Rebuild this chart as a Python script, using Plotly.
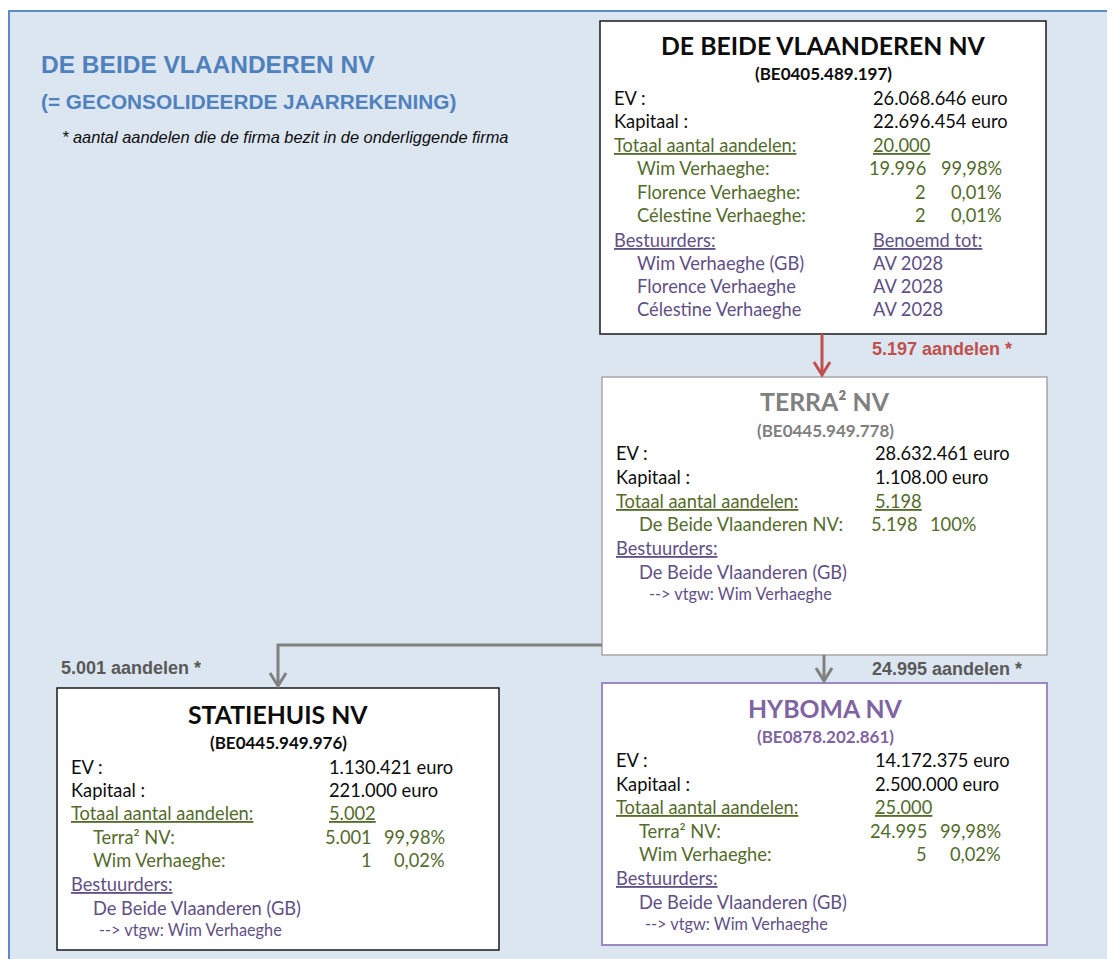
import plotly.graph_objects as go

# ---------------- DATA ----------------
page_title = "DE BEIDE VLAANDEREN NV"
page_subtitle = "(= GECONSOLIDEERDE JAARREKENING)"
page_note = "* aantal aandelen die de firma bezit in de onderliggende firma"

company_names = ["DE BEIDE VLAANDEREN NV", "TERRA² NV", "STATIEHUIS NV", "HYBOMA NV"]
company_numbers = ["(BE0405.489.197)", "(BE0445.949.778)", "(BE0445.949.976)", "(BE0878.202.861)"]
eigen_vermogen = ["26.068.646 euro", "28.632.461 euro", "1.130.421 euro", "14.172.375 euro"]
kapitaal = ["22.696.454 euro", "1.108.00 euro", "221.000 euro", "2.500.000 euro"]
totaal_aandelen = ["20.000", "5.198", "5.002", "25.000"]
aandeelhouders = [
    ["Wim Verhaeghe:", "Florence Verhaeghe:", "Célestine Verhaeghe:"],
    ["De Beide Vlaanderen NV:"],
    ["Terra² NV:", "Wim Verhaeghe:"],
    ["Terra² NV:", "Wim Verhaeghe:"],
]
aandelen = [["19.996", "2", "2"], ["5.198"], ["5.001", "1"], ["24.995", "5"]]
percentages = [["99,98%", "0,01%", "0,01%"], ["100%"], ["99,98%", "0,02%"], ["99,98%", "0,02%"]]
bestuurders = [
    ["Wim Verhaeghe (GB)", "Florence Verhaeghe", "Célestine Verhaeghe"],
    ["De Beide Vlaanderen (GB)"],
    ["De Beide Vlaanderen (GB)"],
    ["De Beide Vlaanderen (GB)"],
]
benoemd_tot = [["AV 2028", "AV 2028", "AV 2028"], [], [], []]
vertegenwoordigers = [None, "--> vtgw: Wim Verhaeghe", "--> vtgw: Wim Verhaeghe", "--> vtgw: Wim Verhaeghe"]
link_labels = ["5.197 aandelen *", "5.001 aandelen *", "24.995 aandelen *"]

# ---------------- STYLE / LAYOUT ----------------
W, H = 1115, 959
OFF = 8  # page body margin: axis units == page pixels
BODY = "Lato"
ARIAL = "Liberation Sans"
BLACK = "#0d0d0d"
GREEN = "#546b2c"
PURPLE = "#5f5085"
BLUE = "#4f81bd"
RED = "#c0504d"
FS = 18.3

boxes = [
    dict(rect=(600, 21, 1046, 334), tcol=BLACK, bcol="#1a1a1a", bw=1.5, cx=823, ty=45, vy=73,
         rows=[98, 121, 145, 168, 192, 215, 240, 263, 286, 309],
         lx=613, ix=636, vx=872, cr=927, pr=1003, vtx=None),
    dict(rect=(602, 377, 1047, 655), tcol="#808080", bcol="#a6a6a6", bw=1.5, cx=825, ty=401, vy=430,
         rows=[453, 477, 501, 524, 548, 572, 593],
         lx=615, ix=638, vx=874, cr=919, pr=977, vtx=648),
    dict(rect=(57, 688, 499, 950), tcol=BLACK, bcol="#1a1a1a", bw=1.5, cx=278, ty=714, vy=742,
         rows=[767, 790, 813, 837, 860, 884, 908, 929],
         lx=70, ix=92, vx=328, cr=373, pr=446, vtx=98),
    dict(rect=(602, 683, 1047, 945), tcol="#8064a2", bcol="#9d88c4", bw=2, cx=825, ty=708, vy=736,
         rows=[760, 784, 807, 831, 854, 878, 902, 923],
         lx=615, ix=638, vx=874, cr=928, pr=1002, vtx=644),
]

fig = go.Figure()
shapes = []
ann = []


def text(x, y, s, color, size=FS, family=BODY, anchor="left"):
    ann.append(dict(x=x, y=y, xref="x", yref="y", text=s, showarrow=False,
                    xanchor=anchor, yanchor="middle", borderpad=0,
                    font=dict(family=family, size=size, color=color)))


# background panel
shapes.append(dict(type="rect", x0=9, y0=11, x1=W + 40, y1=H + 40, xref="x", yref="y",
                   fillcolor="#dce6f1", line=dict(color="#5b8cc9", width=2), layer="below"))

# page heading
text(40, 64, f"<b>{page_title}</b>", BLUE, 24.5, ARIAL)
text(40, 101, f"<b>{page_subtitle}</b>", BLUE, 20.8, ARIAL)
text(61, 137, f"<i>{page_note}</i>", BLACK, 16.4, ARIAL)

for i, b in enumerate(boxes):
    x0, y0, x1, y1 = b["rect"]
    shapes.append(dict(type="rect", x0=x0, y0=y0, x1=x1, y1=y1, xref="x", yref="y",
                       fillcolor="white", line=dict(color=b["bcol"], width=b["bw"])))
    text(b["cx"], b["ty"], f"<b>{company_names[i]}</b>", b["tcol"], 24.8, BODY, "center")
    text(b["cx"], b["vy"], f"<b>{company_numbers[i]}</b>", b["tcol"], 17, BODY, "center")
    r = iter(b["rows"])
    y = next(r)
    text(b["lx"], y, "EV :", BLACK)
    text(b["vx"], y, eigen_vermogen[i], BLACK)
    y = next(r)
    text(b["lx"], y, "Kapitaal :", BLACK)
    text(b["vx"], y, kapitaal[i], BLACK)
    y = next(r)
    text(b["lx"], y, "<u>Totaal aantal aandelen:</u>", GREEN)
    text(b["vx"], y, f"<u>{totaal_aandelen[i]}</u>", GREEN)
    for name, n, p in zip(aandeelhouders[i], aandelen[i], percentages[i]):
        y = next(r)
        text(b["ix"], y, name, GREEN)
        text(b["cr"], y, n, GREEN, anchor="right")
        text(b["pr"], y, p, GREEN, anchor="right")
    y = next(r)
    text(b["lx"], y, "<u>Bestuurders:</u>", PURPLE)
    if benoemd_tot[i]:
        text(b["vx"], y, "<u>Benoemd tot:</u>", PURPLE)
    for j, name in enumerate(bestuurders[i]):
        y = next(r)
        text(b["ix"], y, name, PURPLE)
        if benoemd_tot[i]:
            text(b["vx"], y, benoemd_tot[i][j], PURPLE)
    if vertegenwoordigers[i]:
        y = next(r)
        text(b["vtx"], y, vertegenwoordigers[i], PURPLE, 16.3)


def line(pts, color, width=3):
    path = "M " + " L ".join(f"{px},{py}" for px, py in pts)
    shapes.append(dict(type="path", path=path, xref="x", yref="y",
                       line=dict(color=color, width=width)))


def arrow(pts, color):
    line(pts, color)
    tx, ty = pts[-1]
    line([(tx - 8, ty - 13), (tx, ty), (tx + 8, ty - 13)], color)


# connectors: top -> Terra, Terra -> Statiehuis, Terra -> Hyboma
arrow([(822, 334), (822, 375)], RED)
arrow([(602, 645), (278, 645), (278, 686)], "#808080")
arrow([(824, 655), (824, 681)], "#808080")

text(871, 349, f"<b>{link_labels[0]}</b>", RED, 18, ARIAL)
text(60, 668, f"<b>{link_labels[1]}</b>", "#595959", 18, ARIAL)
text(871, 669, f"<b>{link_labels[2]}</b>", "#595959", 18, ARIAL)

fig.update_layout(
    width=W, height=H, margin=dict(l=0, r=0, t=0, b=0),
    paper_bgcolor="white", plot_bgcolor="white",
    xaxis=dict(range=[OFF, W + OFF], visible=False, fixedrange=True),
    yaxis=dict(range=[H + OFF, OFF], visible=False, fixedrange=True),
    shapes=shapes, annotations=ann, showlegend=False,
)
fig.write_html("out.html")
